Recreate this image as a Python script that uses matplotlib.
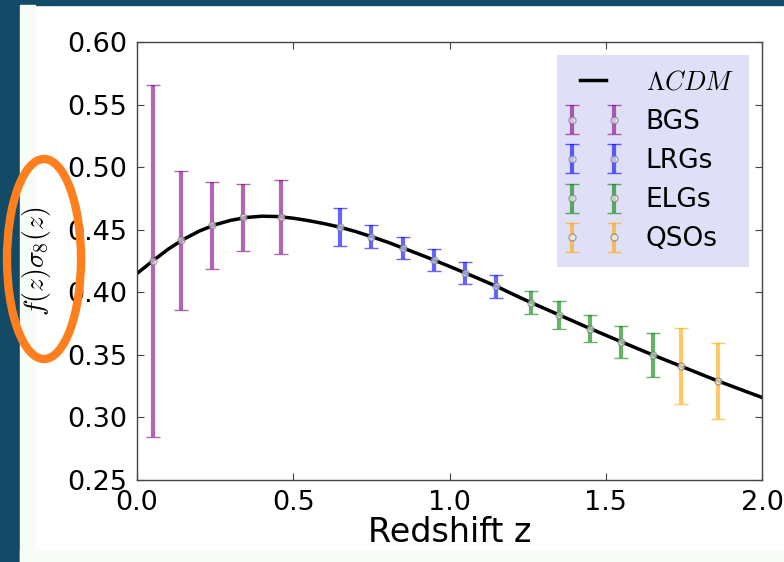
import matplotlib
matplotlib.use("Agg")
import matplotlib.pyplot as plt
from matplotlib.patches import Ellipse, Rectangle
from matplotlib.container import ErrorbarContainer
from matplotlib.legend_handler import HandlerErrorbar

plt.rcParams["mathtext.fontset"] = "cm"
plt.rcParams["font.family"] = ["DejaVu Sans"]

# LCDM growth curve f(z)sigma8(z)
z_model = [0.00, 0.05, 0.10, 0.15, 0.20, 0.25, 0.30, 0.35, 0.40, 0.45,
           0.50, 0.55, 0.60, 0.65, 0.70, 0.75, 0.80, 0.85, 0.90, 0.95,
           1.00, 1.05, 1.10, 1.15, 1.20, 1.25, 1.30, 1.35, 1.40, 1.45,
           1.50, 1.55, 1.60, 1.65, 1.70, 1.75, 1.80, 1.85, 1.90, 1.95, 2.00]
fs8_model = [0.415, 0.425, 0.4345, 0.4425, 0.449, 0.454, 0.4575, 0.4598, 0.4608, 0.4605,
             0.4592, 0.4572, 0.4548, 0.452, 0.4485, 0.4445, 0.4402, 0.4355, 0.4307, 0.4258,
             0.4207, 0.4155, 0.4102, 0.4048, 0.3988, 0.3930, 0.3875, 0.382, 0.3765, 0.371,
             0.3657, 0.3604, 0.3552, 0.350, 0.345, 0.340, 0.335, 0.330, 0.3253, 0.3206, 0.316]

# forecast points per tracer
z_bgs = [0.05, 0.14, 0.24, 0.34, 0.46]
fs8_bgs = [0.425, 0.4415, 0.4535, 0.4598, 0.4603]
err_bgs = [0.141, 0.0555, 0.035, 0.027, 0.0296]

z_lrg = [0.65, 0.75, 0.85, 0.95, 1.05, 1.15]
fs8_lrg = [0.452, 0.4445, 0.4355, 0.4258, 0.4155, 0.4048]
err_lrg = [0.015, 0.0095, 0.009, 0.009, 0.009, 0.009]

z_elg = [1.26, 1.35, 1.45, 1.55, 1.65]
fs8_elg = [0.3918, 0.382, 0.371, 0.3604, 0.350]
err_elg = [0.009, 0.011, 0.011, 0.013, 0.0176]

z_qso = [1.74, 1.86]
fs8_qso = [0.341, 0.329]
err_qso = [0.0305, 0.0305]

fig = plt.figure(figsize=(7.84, 5.62), dpi=100, facecolor="white")

# slide background behind the figure
fig.add_artist(Rectangle((0, 0), 20 / 784, 1, transform=fig.transFigure,
                         color="#134a66", zorder=-10))
fig.add_artist(Rectangle((0, 1 - 5 / 562), 1, 5 / 562, transform=fig.transFigure,
                         color="#134a66", zorder=-10))
fig.add_artist(Rectangle((20 / 784, 0), 15 / 784, 1 - 5 / 562, transform=fig.transFigure,
                         color="#f7fcf7", zorder=-9))
fig.add_artist(Rectangle((20 / 784, 0), 1, 12 / 562, transform=fig.transFigure,
                         color="#f7fcf7", zorder=-9))

ax = fig.add_axes([137 / 784, 1 - 480 / 562, 625 / 784, 438 / 562])

ax.plot(z_model, fs8_model, color="black", lw=2.5, label=r"$\Lambda CDM$", zorder=2)

common = dict(fmt="o", alpha=0.6, elinewidth=3, capsize=5, capthick=1.2,
              ms=5, mfc="white", mec="#707070", mew=1, zorder=3)
ax.errorbar(z_bgs, fs8_bgs, yerr=err_bgs, color="purple", ecolor="purple", label="BGS", **common)
ax.errorbar(z_lrg, fs8_lrg, yerr=err_lrg, color="b", ecolor="b", label="LRGs", **common)
ax.errorbar(z_elg, fs8_elg, yerr=err_elg, color="g", ecolor="g", label="ELGs", **common)
ax.errorbar(z_qso, fs8_qso, yerr=err_qso, color="orange", ecolor="orange", label="QSOs", **common)

ax.set_xlim(0, 2.0)
ax.set_ylim(0.25, 0.60)
ax.set_xticks([0.0, 0.5, 1.0, 1.5, 2.0])
ax.set_yticks([0.25, 0.30, 0.35, 0.40, 0.45, 0.50, 0.55, 0.60])
ax.tick_params(direction="in", top=True, right=True, length=5, width=0.8,
               color="#444444", labelsize=19.5, pad=7)
for sp in ax.spines.values():
    sp.set_color("#444444")
    sp.set_linewidth(1.0)

ax.set_xlabel("Redshift z", fontsize=24, labelpad=0)
ax.set_ylabel(r"$f(z)\sigma_8(z)$", fontsize=20, labelpad=10)

leg = ax.legend(loc="upper right", numpoints=2, fontsize=19, handlelength=1.6,
                handletextpad=1.2, labelspacing=0.5, borderpad=0.55,
                borderaxespad=0.5, fancybox=False, framealpha=1,
                handler_map={ErrorbarContainer: HandlerErrorbar(marker_pad=0, yerr_size=0.55)})
leg.get_frame().set_facecolor("#dfdff7")
leg.get_frame().set_edgecolor("none")

# highlight around the y label
fig.add_artist(Ellipse((44 / 784, 1 - 259 / 562), 74 / 784, 200 / 562,
                       transform=fig.transFigure, fill=False,
                       ec="#ff7f1e", lw=6, zorder=20))

fig.savefig("out.png", dpi=100, facecolor=fig.get_facecolor())
